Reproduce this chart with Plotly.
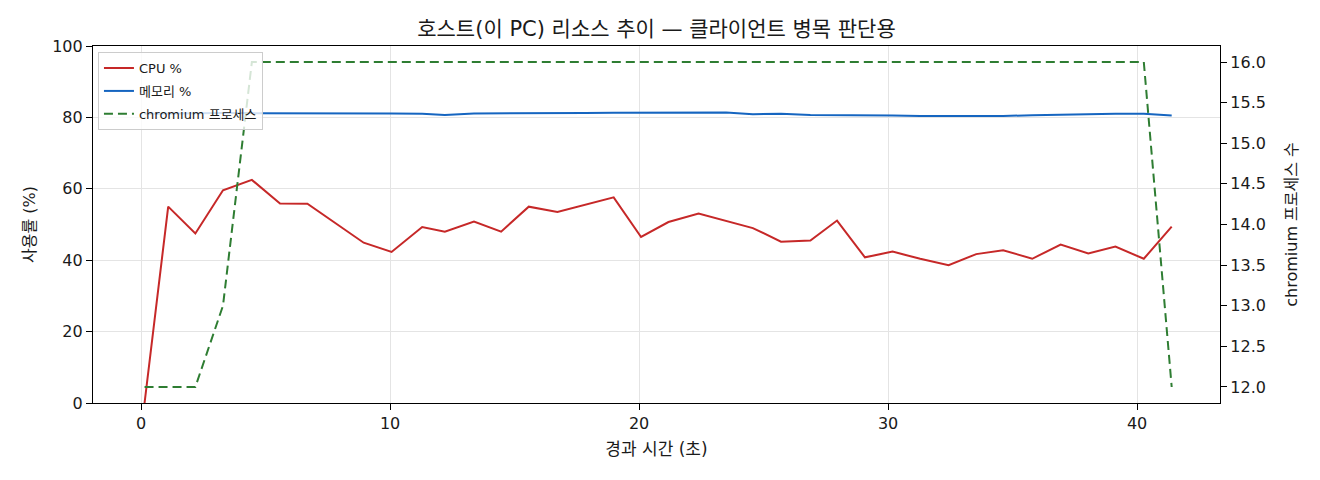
import plotly.graph_objects as go

# 경과 시간 (초)
t = [0.14, 1.09, 2.18, 3.29, 4.45, 5.58, 6.68, 7.78, 8.94, 10.06,
     11.29, 12.2, 13.37, 14.46, 15.57, 16.72, 17.83, 18.98, 20.08, 21.18,
     22.39, 23.5, 24.57, 25.7, 26.88, 27.95, 29.07, 30.18, 31.29, 32.43,
     33.54, 34.62, 35.79, 36.93, 38.04, 39.13, 40.27, 41.39]

cpu = [0, 55.0, 47.5, 59.6, 62.5, 55.9, 55.8, 50.5, 44.9, 42.3,
       49.3, 48.0, 50.8, 48.0, 55.0, 53.5, 55.5, 57.6, 46.5, 50.7,
       53.1, 51.0, 49.0, 45.2, 45.5, 51.1, 40.8, 42.4, 40.4, 38.6,
       41.7, 42.8, 40.4, 44.4, 41.9, 43.8, 40.4, 49.4]

mem = [81.0, 81.1, 81.1, 81.2, 81.2, 81.2, 81.2, 81.3, 81.2, 81.1,
       81.0, 80.7, 81.1, 81.1, 81.1, 81.0, 81.2, 81.3, 81.3, 81.4,
       81.3, 81.4, 80.9, 81.0, 80.7, 80.7, 80.5, 80.5, 80.4, 80.4,
       80.3, 80.4, 80.6, 80.8, 80.9, 81.0, 81.0, 80.5]

chromium = [12, 12, 12, 13] + [16] * 33 + [12]

x_ticks = [0, 10, 20, 30, 40]
y_ticks = [0, 20, 40, 60, 80, 100]
y2_ticks = [12.0, 12.5, 13.0, 13.5, 14.0, 14.5, 15.0, 15.5, 16.0]

FONT = "DejaVu Sans, Noto Sans CJK KR, sans-serif"
TXT = "#1a1a1a"

fig = go.Figure()

fig.add_trace(go.Scatter(
    x=t, y=cpu, mode="lines", name="CPU %", legendgroup="a",
    line=dict(color="#c62828", width=2),
))
fig.add_trace(go.Scatter(
    x=t, y=mem, mode="lines", name="메모리 %", legendgroup="b",
    line=dict(color="#1565c0", width=2),
))
fig.add_trace(go.Scatter(
    x=t, y=chromium, mode="lines", name="chromium 프로세스", legendgroup="c",
    line=dict(color="#2e7d32", width=2, dash="9px,5px"),
    yaxis="y2",
))

axis_common = dict(
    showline=True, linecolor="black", linewidth=1.2,
    ticks="outside", ticklen=6, tickcolor="black", tickwidth=1.2,
    tickfont=dict(size=16, color=TXT),
    zeroline=False,
)

# 페이지 body 여백(8px) 감안한 마진
fig.update_layout(
    width=1320, height=480,
    margin=dict(l=85, r=108, t=38, b=85),
    paper_bgcolor="white", plot_bgcolor="white",
    font=dict(family=FONT, color=TXT),
    title=dict(
        text="호스트(이 PC) 리소스 추이 — 클라이언트 병목 판단용",
        x=0.5, xref="paper", xanchor="center",
        y=0.958, yanchor="middle",
        font=dict(size=21, color=TXT),
    ),
    xaxis=dict(
        **axis_common, mirror=True,
        range=[-1.93, 43.33], tickvals=x_ticks,
        showgrid=True, gridcolor="#e4e4e4", gridwidth=1,
        title=dict(text="경과 시간 (초)", font=dict(size=17), standoff=10),
    ),
    yaxis=dict(
        **axis_common, mirror=True,
        range=[0, 100], tickvals=y_ticks,
        showgrid=True, gridcolor="#e4e4e4", gridwidth=1,
        title=dict(text="사용률 (%)", font=dict(size=16), standoff=12),
    ),
    yaxis2=dict(
        **axis_common,
        overlaying="y", side="right",
        range=[11.803, 16.197], tickvals=y2_ticks, tickformat=".1f",
        showgrid=False,
        title=dict(text="chromium 프로세스 수", font=dict(size=16), standoff=20),
    ),
    legend=dict(
        x=0.0044, y=0.983, xanchor="left", yanchor="top",
        bgcolor="rgba(255,255,255,0.8)", bordercolor="#cccccc", borderwidth=1,
        font=dict(size=13, color=TXT),
        itemwidth=30, tracegroupgap=3,
    ),
    showlegend=True,
)

fig.write_html("out.html")
